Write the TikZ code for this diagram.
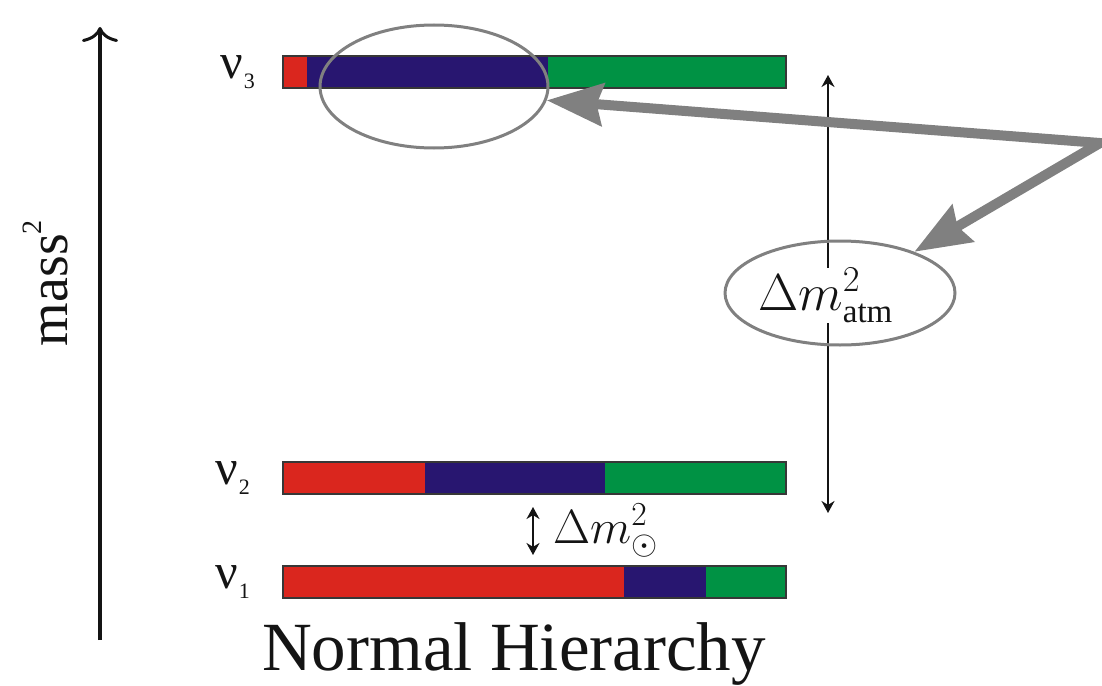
\documentclass[tikz,border=0pt]{standalone}
\usepackage{fix-cm}
\usepackage{fontspec}
\setmainfont{Liberation Serif}
\newfontfamily\tnr{Liberation Serif}
\usetikzlibrary{arrows.meta,shapes.geometric}
\definecolor{nured}{RGB}{218,38,30}
\definecolor{nublue}{RGB}{40,22,112}
\definecolor{nugreen}{RGB}{0,146,68}
\definecolor{ink}{RGB}{20,20,20}
\tikzset{
  barline/.style={draw=ink!85, line width=1.2pt},
  hilite/.style={draw=gray, ellipse, line width=3pt, inner sep=0pt},
  pointer/.style={draw=gray, line width=10pt, line join=miter,
    {Stealth[length=56pt,width=42pt,inset=6pt]}-{Stealth[length=56pt,width=42pt,inset=6pt]}},
  gaparrow/.style={draw=ink, line width=2.2pt, {Stealth[length=12pt,width=13pt]}-{Stealth[length=12pt,width=13pt]}},
  nulabel/.style={anchor=base west, inner sep=0pt, text=ink, font=\tnr\fontsize{50}{52}\selectfont},
}
\newcommand{\nusub}[1]{\kern1pt\raisebox{-10pt}{\fontsize{22}{22}\selectfont #1}}
\begin{document}
\begin{tikzpicture}[x=1pt,y=-1pt]
\useasboundingbox (0,0) rectangle (1102,685);
% mass axis
\coordinate (axbot) at (100,640);
\coordinate (axtop) at (100,27);
\draw[ink, line width=3.2pt, -{Computer Modern Rightarrow[length=15pt,width=36pt,line width=3pt]}] (axbot) -- (axtop);
\node[rotate=90, anchor=base, inner sep=0pt, text=ink, font=\tnr\fontsize{56}{60}\selectfont] (mass) at (67,283) {mass\raisebox{26pt}{\fontsize{28}{28}\selectfont 2}};
% nu3 bar
\fill[nured] (283,56) rectangle (307,88);
\fill[nublue] (307,56) rectangle (548,88);
\fill[nugreen] (548,56) rectangle (786,88);
\draw[barline] (283,56) rectangle (786,88);
% nu2 bar
\fill[nured] (283,462) rectangle (425,494);
\fill[nublue] (425,462) rectangle (605,494);
\fill[nugreen] (605,462) rectangle (786,494);
\draw[barline] (283,462) rectangle (786,494);
% nu1 bar
\fill[nured] (283,566) rectangle (624,598);
\fill[nublue] (624,566) rectangle (706,598);
\fill[nugreen] (706,566) rectangle (786,598);
\draw[barline] (283,566) rectangle (786,598);
% labels
\node[nulabel] (nu3) at (220,78) {ν\nusub{3}};
\node[nulabel] (nu2) at (215,484) {ν\nusub{2}};
\node[nulabel] (nu1) at (215,588) {ν\nusub{1}};
% atm arrow
\coordinate (atmtop) at (828,75);
\coordinate (atmbot) at (828,513);
\draw[gaparrow] (atmtop) -- (atmbot);
\node[hilite, minimum width=230pt, minimum height=104pt] (atmell) at (840,293) {};
\node[anchor=base west, fill=white, inner sep=0pt, text=ink, font=\fontsize{52}{60}\selectfont] (atm) at (758,310) {$\Delta m^2_{\mbox{\tnr\fontsize{33}{33}\selectfont atm}}$};
% solar arrow
\coordinate (soltop) at (533,507);
\coordinate (solbot) at (533,555);
\draw[gaparrow] (soltop) -- (solbot);
\node[anchor=base west, inner sep=0pt, text=ink, font=\fontsize{48}{56}\selectfont] (sol) at (553,543) {$\Delta m^2_{\odot}$};
% highlight ellipse on nu3
\node[hilite, minimum width=228pt, minimum height=123pt] (nu3ell) at (434,86.5) {};
% pointer arrows
\coordinate (apex) at (1100,143);
\draw[pointer] (nu3ell.-7) -- (apex) -- (atmell.29);
% title
\node[anchor=base, inner sep=0pt, text=ink, font=\tnr\fontsize{69}{72}\selectfont] (title) at (514,670) {Normal Hierarchy};
\end{tikzpicture}
\end{document}
